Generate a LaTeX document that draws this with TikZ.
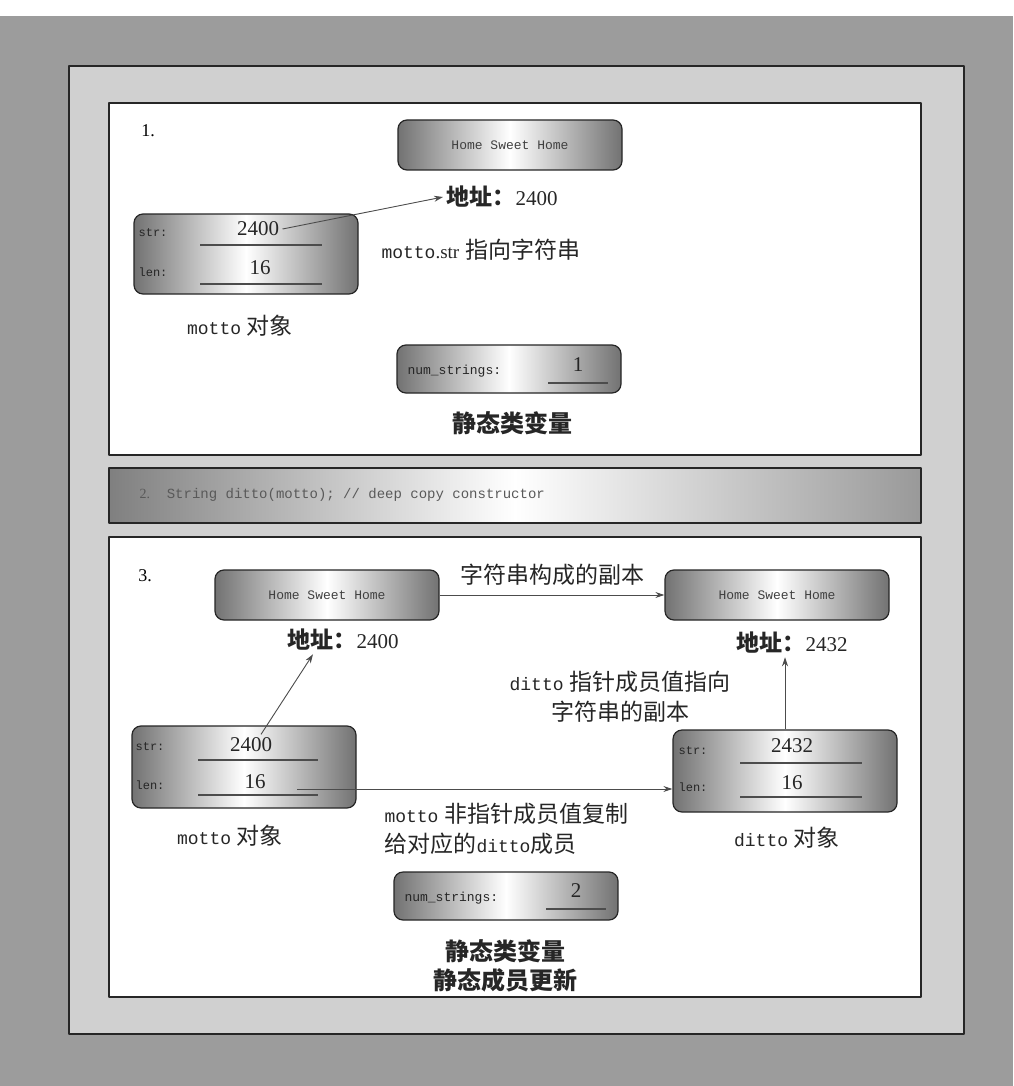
\documentclass[tikz,border=0pt]{standalone}
\usepackage{fontspec}
\setmainfont{Liberation Serif}
\setmonofont{Liberation Mono}
\newfontfamily\cjk{Noto Sans CJK SC}
\usetikzlibrary{positioning,arrows.meta}
\definecolor{outergray}{HTML}{9C9C9C}
\definecolor{framegray}{HTML}{D0D0D0}
\definecolor{boxgray}{HTML}{727272}
\definecolor{ink}{HTML}{262626}
\begin{document}
\begin{tikzpicture}[x=1pt, y=-1pt, line join=round, >={Stealth[length=9pt,width=6pt]},
	panel/.style={draw=ink, line width=1.3pt, fill=white},
	memstr/.style={draw=ink, line width=1.2pt, rounded corners=9pt, minimum width=224pt, minimum height=50pt, left color=boxgray, right color=boxgray, middle color=white, text=black!75, font=\fontsize{13}{13}\selectfont\ttfamily},
	objbox/.style={memstr, minimum height=80pt},
	numbox/.style={memstr, minimum height=48pt},
	fld/.style={font=\fontsize{12}{12}\selectfont\ttfamily, text=black!85},
	val/.style={font=\fontsize{21}{21}\selectfont, text=ink},
	uline/.style={draw=black!70, line width=1.3pt},
	cn/.style={font=\fontsize{23}{30}\selectfont, text=ink, align=center},
	addr/.style={font=\fontsize{21}{21}\selectfont, text=ink},
	head/.style={font=\fontsize{24}{28}\selectfont\cjk\bfseries, text=ink},
	conn/.style={draw=black!70, line width=0.9pt, ->}]
	\useasboundingbox (0,0) rectangle (1013,1086);
	% background and panels
	\fill[white] (0,0) rectangle (1013,1086);
	\fill[outergray] (0,16) rectangle (1013,1086);
	\filldraw[fill=framegray, draw=ink, line width=1.5pt] (69,66) rectangle (964,1034);
	\draw[panel] (109,103) rectangle (921,455);
	\draw[draw=ink, line width=1.3pt, left color=black!50, right color=black!40, middle color=white] (109,468) rectangle (921,523);
	\draw[panel] (109,537) rectangle (921,997);
	% 1.
	\node[font=\fontsize{18}{18}\selectfont] (n1) at (148,131) {1.};
	\node[memstr] (hs1) at (510,145) {Home Sweet Home};
	\node[addr, anchor=west] (ad1) at (443,197) {{\fontsize{23}{23}\selectfont\cjk\bfseries 地址：}2400};
	\node[objbox] (mo1) at (246,254) {};
	\node[fld] (mo1s) at (153,233) {str:};
	\node[fld] (mo1l) at (153,272) {len:};
	\node[val] (mo1sv) at (258,229) {2400};
	\node[val] (mo1lv) at (260,268) {16};
	\draw[uline] (200,245)--(322,245) (200,284)--(322,284);
	\draw[conn] (mo1sv.east) -- (ad1.west);
	\node[cn, anchor=west] (lb1) at (378,250) {{\fontsize{18}{18}\selectfont\ttfamily motto}{\fontsize{19}{19}\selectfont .str} {\cjk 指向字符串}};
	\node[cn] (ob1) at (240,326) {{\fontsize{18}{18}\selectfont\ttfamily motto} {\cjk 对象}};
	\node[numbox] (ns1) at (509,369) {};
	\node[fld, anchor=west, font=\fontsize{13}{13}\selectfont\ttfamily] (ns1l) at (404,371) {num\_strings:};
	\node[val] (ns1v) at (578,365) {1};
	\draw[uline] (548,383)--(608,383);
	\node[head] (sv1) at (512,423) {静态类变量};
	% 2.
	\node[anchor=west, font=\fontsize{14}{14}\selectfont\ttfamily, text=black!65] (code) at (136,495) {{\rmfamily 2.}~~String ditto(motto); // deep copy constructor};
	% 3.
	\node[font=\fontsize{18}{18}\selectfont] (n3) at (145,576) {3.};
	\node[memstr] (hs3a) at (327,595) {Home Sweet Home};
	\node[memstr] (hs3b) at (777,595) {Home Sweet Home};
	\draw[conn] (hs3a.east) -- (hs3b.west);
	\node[cn] (cp) at (552,575) {\cjk 字符串构成的副本};
	\node[addr] (ad3a) at (343,640) {{\fontsize{23}{23}\selectfont\cjk\bfseries 地址：}2400};
	\node[addr] (ad3b) at (792,643) {{\fontsize{23}{23}\selectfont\cjk\bfseries 地址：}2432};
	\node[cn] (pt) at (620,697) {{\fontsize{18}{18}\selectfont\ttfamily ditto} {\cjk 指针成员值指向}\\{\cjk 字符串的副本}};
	\node[objbox, minimum height=82pt] (mo3) at (244,767) {};
	\node[fld] (mo3s) at (150,747) {str:};
	\node[fld] (mo3l) at (150,785) {len:};
	\node[val] (mo3sv) at (251,745) {2400};
	\node[val] (mo3lv) at (255,782) {16};
	\draw[uline] (198,760)--(318,760) (198,795)--(318,795);
	\node[objbox, minimum height=82pt] (d3) at (785,771) {};
	\node[fld] (d3s) at (693,751) {str:};
	\node[fld] (d3l) at (693,787) {len:};
	\node[val] (d3sv) at (792,746) {2432};
	\node[val] (d3lv) at (792,783) {16};
	\draw[uline] (740,763)--(862,763) (740,797)--(862,797);
	\draw[conn] ([xshift=10pt]mo3sv.north) -- ([xshift=-30pt]ad3a.south);
	\draw[conn] (d3.north) -- (d3.north |- ad3b.south);
	\coordinate (lenout) at (297,789);
	\draw[conn] (lenout) -- (lenout -| d3.west);
	\node[cn, anchor=north west, align=left] (np) at (381,800) {{\fontsize{18}{18}\selectfont\ttfamily motto} {\cjk 非指针成员值复制}\\{\cjk 给对应的}{\fontsize{18}{18}\selectfont\ttfamily ditto}{\cjk 成员}};
	\node[cn] (ob3a) at (230,836) {{\fontsize{18}{18}\selectfont\ttfamily motto} {\cjk 对象}};
	\node[cn] (ob3b) at (787,838) {{\fontsize{18}{18}\selectfont\ttfamily ditto} {\cjk 对象}};
	\node[numbox] (ns3) at (506,896) {};
	\node[fld, anchor=west, font=\fontsize{13}{13}\selectfont\ttfamily] (ns3l) at (401,898) {num\_strings:};
	\node[val] (ns3v) at (576,891) {2};
	\draw[uline] (546,909)--(606,909);
	\node[head] (sv3) at (505,951) {静态类变量};
	\node[head] (su3) at (505,980) {静态成员更新};
\end{tikzpicture}
\end{document}
